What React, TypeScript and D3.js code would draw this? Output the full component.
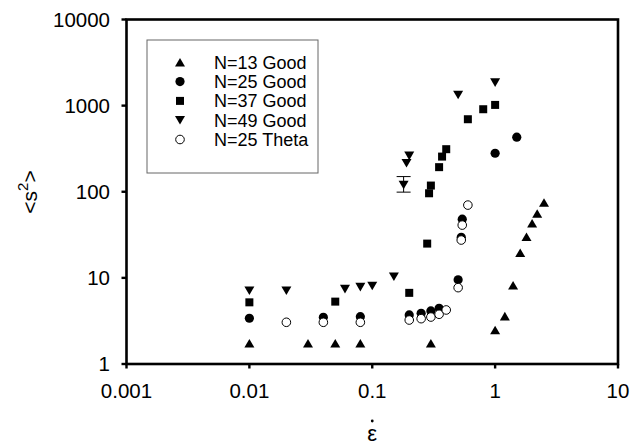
import React from "react";
import * as d3 from "d3";

// ---- data ----
const n13X = [0.01, 0.03, 0.05, 0.08, 0.3, 1.0, 1.2, 1.4, 1.6, 1.8, 2.0, 2.2, 2.5];
const n13Y = [1.74, 1.74, 1.74, 1.74, 1.74, 2.48, 3.6, 8.2, 19.6, 30, 43, 56, 75];

const n25X = [0.01, 0.04, 0.08, 0.2, 0.25, 0.3, 0.35, 0.5, 0.53, 0.54, 1.0, 1.5];
const n25Y = [3.4, 3.49, 3.54, 3.71, 3.88, 4.13, 4.43, 9.5, 29.6, 48, 280, 430];

const n37X = [0.01, 0.05, 0.2, 0.28, 0.29, 0.3, 0.35, 0.37, 0.4, 0.6, 0.8, 1.0];
const n37Y = [5.2, 5.3, 6.7, 25, 96, 118, 193, 256, 312, 695, 908, 1019];

const n49X = [0.01, 0.02, 0.06, 0.08, 0.1, 0.15, 0.18, 0.19, 0.2, 0.5, 1.0];
const n49Y = [7.1, 7.1, 7.4, 7.8, 8.05, 10.3, 120, 214, 261, 1331, 1850];
// error bar on the N=49 point at 0.18
const errX = [0.18];
const errLo = [99];
const errHi = [150];

const thetaX = [0.02, 0.04, 0.08, 0.2, 0.25, 0.3, 0.35, 0.4, 0.5, 0.53, 0.54, 0.6];
const thetaY = [3.05, 3.05, 3.05, 3.24, 3.36, 3.51, 3.78, 4.24, 7.7, 27.5, 41, 70];

const xTicks = [0.001, 0.01, 0.1, 1, 10];
const yTicks = [1, 10, 100, 1000, 10000];
const xTickLabels = ["0.001", "0.01", "0.1", "1", "10"];
const yTickLabels = ["1", "10", "100", "1000", "10000"];

const legendLabels = ["N=13 Good", "N=25 Good", "N=37 Good", "N=49 Good", "N=25 Theta"];

type Kind = "up" | "circle" | "square" | "down" | "ocircle";

const series: { kind: Kind; xs: number[]; ys: number[] }[] = [
  { kind: "up", xs: n13X, ys: n13Y },
  { kind: "circle", xs: n25X, ys: n25Y },
  { kind: "square", xs: n37X, ys: n37Y },
  { kind: "down", xs: n49X, ys: n49Y },
  { kind: "ocircle", xs: thetaX, ys: thetaY },
];

const FONT = "Arial, 'Liberation Sans', Helvetica, sans-serif";

function markerPath(kind: Kind): string {
  const w = 10, h = 8.6;
  if (kind === "up") return `M0,${-h / 2}L${w / 2},${h / 2}L${-w / 2},${h / 2}Z`;
  if (kind === "down") return `M0,${h / 2}L${w / 2},${-h / 2}L${-w / 2},${-h / 2}Z`;
  if (kind === "square") return d3.symbol(d3.symbolSquare, 64)()!;
  const r = kind === "circle" ? 4.6 : 4.3;
  return d3.symbol(d3.symbolCircle, Math.PI * r * r)()!;
}

function Marker({ kind, x, y }: { kind: Kind; x: number; y: number }) {
  const open = kind === "ocircle";
  return (
    <path
      d={markerPath(kind)}
      transform={`translate(${x},${y})`}
      fill={open ? "#fff" : "#000"}
      stroke="#000"
      strokeWidth={open ? 1 : 0}
    />
  );
}

export default function App() {
  const W = 631, H = 448;
  const left = 126.5, right = 618, top = 19.5, bottom = 364;
  const x = d3.scaleLog().domain([0.001, 10]).range([left, right]);
  const y = d3.scaleLog().domain([1, 10000]).range([bottom, top]);

  const legX = 147, legY = 40, legW = 171, legH = 133;
  const midX = (left + right) / 2;

  return (
    <svg
      width={W}
      height={H}
      style={{ position: "absolute", left: 0, top: 0, background: "#fff" }}
      fontFamily={FONT}
    >
      <rect x={0} y={0} width={W} height={H} fill="#fff" />

      {/* ticks */}
      {yTicks.map((t, i) => (
        <g key={"yt" + i}>
          <line x1={left - 5} x2={left} y1={y(t)} y2={y(t)} stroke="#000" strokeWidth={2.4} />
          <text x={110} y={y(t)} dy="0.35em" textAnchor="end" fontSize={20.5} fill="#000">
            {yTickLabels[i]}
          </text>
        </g>
      ))}
      {xTicks.map((t, i) => (
        <g key={"xt" + i}>
          <line x1={x(t)} x2={x(t)} y1={bottom} y2={bottom + 4.5} stroke="#000" strokeWidth={2.4} />
          <text x={x(t)} y={398} textAnchor="middle" fontSize={20.5} fill="#000">
            {xTickLabels[i]}
          </text>
        </g>
      ))}

      {/* frame */}
      <rect
        x={left}
        y={top}
        width={right - left}
        height={bottom - top}
        fill="none"
        stroke="#000"
        strokeWidth={2.6}
      />

      {/* legend */}
      <rect x={legX} y={legY} width={legW} height={legH} fill="#fff" stroke="#666" strokeWidth={1} />
      {legendLabels.map((lab, i) => {
        const cy = 62.3 + i * 19.3;
        return (
          <g key={"lg" + i}>
            <Marker kind={series[i].kind} x={180} y={cy} />
            <text x={214} y={cy} dy="0.36em" fontSize={18} fill="#000">
              {lab}
            </text>
          </g>
        );
      })}

      {/* error bar */}
      {errX.map((ex, i) => (
        <g key={"eb" + i} stroke="#000" strokeWidth={1}>
          <line x1={x(ex)} x2={x(ex)} y1={y(errLo[i])} y2={y(errHi[i])} />
          <line x1={x(ex) - 7} x2={x(ex) + 7} y1={y(errLo[i])} y2={y(errLo[i])} />
          <line x1={x(ex) - 7} x2={x(ex) + 7} y1={y(errHi[i])} y2={y(errHi[i])} />
        </g>
      ))}

      {/* data */}
      {series.map((s, si) =>
        s.xs.map((xv, j) => <Marker key={si + "-" + j} kind={s.kind} x={x(xv)} y={y(s.ys[j])} />)
      )}

      {/* axis titles */}
      <text
        transform={`translate(37,192) rotate(-90)`}
        textAnchor="middle"
        fontSize={21}
        fill="#000"
      >
        {"<s"}
        <tspan fontSize={15} dy={-9}>
          2
        </tspan>
        <tspan dy={9}>{">"}</tspan>
      </text>
      <text x={midX} y={441} textAnchor="middle" fontSize={22} fill="#000">
        ε
      </text>
      {/* dot accent above epsilon */}
      <circle cx={midX} cy={421} r={1.4} fill="#000" />
    </svg>
  );
}
